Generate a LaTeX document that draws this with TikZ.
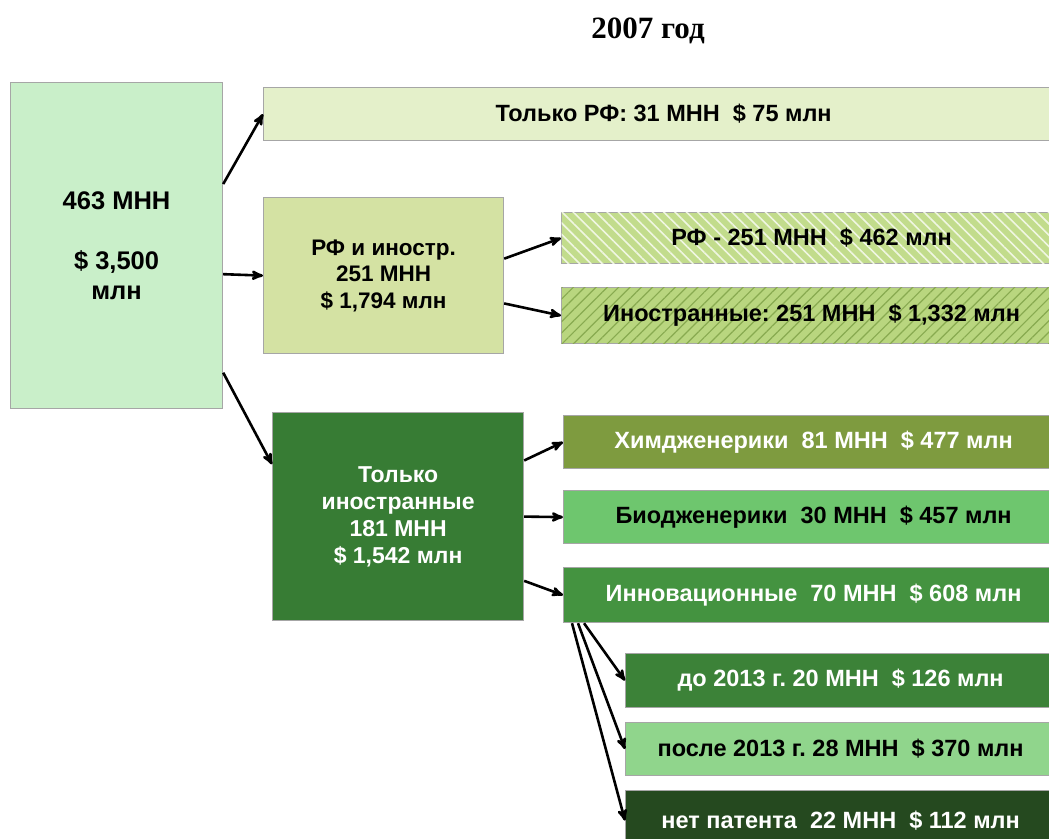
\documentclass[tikz,border=0pt]{standalone}
\usepackage{fontspec}
\setmainfont{Liberation Sans}
\newfontfamily\titlefont{Liberation Serif}
\usetikzlibrary{arrows}
\usetikzlibrary{calc,patterns.meta}
\definecolor{totalG}{HTML}{C9EFC9}
\definecolor{onlyrfG}{HTML}{E4F0CA}
\definecolor{rfandG}{HTML}{D4E2A3}
\definecolor{rfpartG}{HTML}{C2DC8C}
\definecolor{frgpartG}{HTML}{B9D67F}
\definecolor{frgpartL}{HTML}{88AA50}
\definecolor{foreignG}{HTML}{377C34}
\definecolor{chemG}{HTML}{7E9B3F}
\definecolor{bioG}{HTML}{6EC66E}
\definecolor{innovG}{HTML}{449340}
\definecolor{earlyG}{HTML}{3C8238}
\definecolor{lateG}{HTML}{90D58C}
\definecolor{nopatG}{HTML}{25491F}
\frenchspacing

\begin{document}
\begin{tikzpicture}[x=1pt, y=-1pt,
 box/.style={draw=black!35, line width=1.2pt, inner sep=0pt, anchor=north west, align=center,
  font=\bfseries\fontsize{23.5}{27}\selectfont},
 link/.style={black, line width=2.6pt, ->, >=stealth'}]
\useasboundingbox (0,0) rectangle (1049,838);
\clip (0,0) rectangle (1049,838);
\node[font=\titlefont\bfseries\fontsize{31}{36}\selectfont] (title) at (648,31) {2007 год};
% left column
\node[box, fill=totalG, minimum width=212pt, minimum height=326pt, font=\bfseries\fontsize{25.5}{30}\selectfont] (total) at (10,82) {463 МНН\\[30pt]\$ 3,500\\млн};
% second column
\node[box, fill=onlyrfG, minimum width=800pt, minimum height=53pt] (onlyrf) at (263,87) {Только РФ: 31 МНН~ \$ 75 млн};
\node[box, fill=rfandG, minimum width=240pt, minimum height=156pt, font=\bfseries\fontsize{22.5}{26.5}\selectfont] (rfand) at (263,197) {РФ и иностр.\\251 МНН\\\$ 1,794 млн};
\node[box, fill=foreignG, text=white, minimum width=251pt, minimum height=208pt, font=\bfseries\fontsize{23}{27}\selectfont] (foreign) at (272,412) {Только\\иностранные\\181 МНН\\\$ 1,542 млн};
% third column
\node[box, fill=rfpartG, minimum width=500pt, minimum height=51pt,
 postaction={pattern={Lines[angle=-45,distance=8pt,line width=1.6pt]}, pattern color=white!75!rfpartG}] (rfpart) at (561,212) {РФ - 251 МНН~ \$ 462 млн};
\node[box, fill=frgpartG, minimum width=500pt, minimum height=56pt,
 postaction={pattern={Lines[angle=45,distance=8pt,line width=1.2pt]}, pattern color=frgpartL}] (frgpart) at (561,287) {Иностранные: 251 МНН~ \$ 1,332 млн};
\node[box, fill=chemG, text=white, minimum width=500pt, minimum height=53pt] (chem) at (563,415) {Химдженерики~ 81 МНН~ \$ 477 млн};
\node[box, fill=bioG, minimum width=500pt, minimum height=53pt] (bio) at (563,490) {Биодженерики~ 30 МНН~ \$ 457 млн};
\node[box, fill=innovG, text=white, minimum width=500pt, minimum height=55pt] (innov) at (563,567) {Инновационные~ 70 МНН~ \$ 608 млн};
% fourth column
\node[box, fill=earlyG, text=white, minimum width=430pt, minimum height=54pt] (early) at (625,653) {до 2013 г. 20 МНН~ \$ 126 млн};
\node[box, fill=lateG, minimum width=430pt, minimum height=53pt] (late) at (625,722) {после 2013 г. 28 МНН~ \$ 370 млн};
\node[box, fill=nopatG, text=white, minimum width=430pt, minimum height=60pt] (nopat) at (625,790) {нет патента~ 22 МНН~ \$ 112 млн};
% arrows
\draw[link] (total.30) -- (onlyrf.west);
\draw[link] (total.-15) -- (rfand.west);
\draw[link] (total.-50) -- ($(foreign.north west)!.25!(foreign.south west)$);
\draw[link] (rfand.8) -- (rfpart.west);
\draw[link] (rfand.-13) -- (frgpart.west);
\draw[link] (foreign.24) -- (chem.west);
\draw[link] (foreign.east) -- (bio.west);
\draw[link] (foreign.-27) -- (innov.west);
\draw[link] ($(innov.south west)+(21,0)$) -- (early.west);
\draw[link] ($(innov.south west)+(15,0)$) -- (late.west);
\draw[link] ($(innov.south west)+(9,0)$) -- (nopat.west);
\end{tikzpicture}
\end{document}
